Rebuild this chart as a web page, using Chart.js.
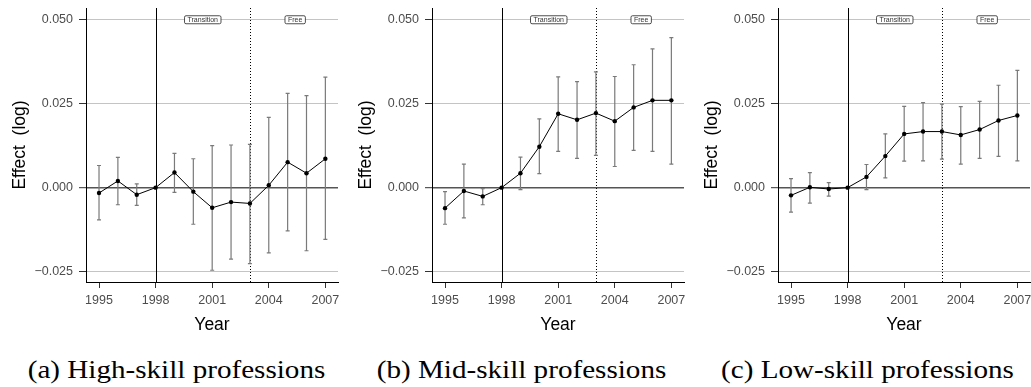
<!DOCTYPE html>
<html><head><meta charset="utf-8">
<script src="https://cdn.jsdelivr.net/npm/chart.js@4/dist/chart.umd.min.js"></script>
<style>
html,body{margin:0;padding:0;background:#fff;overflow:hidden;width:1031px;height:387px;}
.panel{position:absolute;top:0;width:345px;height:340px;}
.cap{position:absolute;top:355px;width:345px;text-align:center;font-family:'Liberation Serif','Times New Roman',serif;font-size:26px;line-height:30px;color:#000;white-space:nowrap;transform:scaleX(1.12);transform-origin:center;}
</style></head><body>
<div class="panel" style="left:0px"><canvas id="c0" width="345" height="340"></canvas></div>
<div class="panel" style="left:346px"><canvas id="c1" width="345" height="340"></canvas></div>
<div class="panel" style="left:692px"><canvas id="c2" width="345" height="340"></canvas></div>
<div class="cap" id="cap0" style="left:4px"></div>
<div class="cap" id="cap1" style="left:348.5px"></div>
<div class="cap" id="cap2" style="left:695px"></div>
<script>
const years = [1995,1996,1997,1998,1999,2000,2001,2002,2003,2004,2005,2006,2007];

const highEst = [-0.0016, 0.0020, -0.0021, 0, 0.0045, -0.0012, -0.0060, -0.0043, -0.0047, 0.0007, 0.0076, 0.0043, 0.0086];
const highLo  = [-0.0096, -0.0051, -0.0053, null, -0.0014, -0.0109, -0.0246, -0.0213, -0.0226, -0.0194, -0.0129, -0.0188, -0.0154];
const highHi  = [0.0066, 0.0090, 0.0011, null, 0.0102, 0.0086, 0.0125, 0.0127, 0.0129, 0.0209, 0.0281, 0.0274, 0.0329];

const midEst = [-0.0061, -0.0010, -0.0026, 0, 0.0043, 0.0122, 0.0220, 0.0202, 0.0222, 0.0198, 0.0239, 0.0260, 0.0260];
const midLo  = [-0.0109, -0.0090, -0.0051, null, -0.0006, 0.0042, 0.0108, 0.0087, 0.0096, 0.0063, 0.0111, 0.0108, 0.0070];
const midHi  = [-0.0012, 0.0070, -0.0003, null, 0.0091, 0.0205, 0.0330, 0.0316, 0.0345, 0.0331, 0.0366, 0.0413, 0.0447];

const lowEst = [-0.0023, 0.0001, -0.0004, 0, 0.0032, 0.0094, 0.0160, 0.0167, 0.0167, 0.0157, 0.0173, 0.0200, 0.0215];
const lowLo  = [-0.0073, -0.0046, -0.0025, null, -0.0006, 0.0029, 0.0079, 0.0080, 0.0085, 0.0070, 0.0087, 0.0093, 0.0080];
const lowHi  = [0.0027, 0.0045, 0.0015, null, 0.0069, 0.0160, 0.0242, 0.0253, 0.0249, 0.0241, 0.0257, 0.0305, 0.0349];

const xTicks = [1995, 1998, 2001, 2004, 2007];
const xTickLabels = ["1995", "1998", "2001", "2004", "2007"];
const yTicks = [-0.025, 0, 0.025, 0.05];
const yTickLabels = ["\u22120.025", "0.000", "0.025", "0.050"];

const solidLineYear = 1998;
const dottedLineYear = 2003;
const phaseLabels = ["Transition", "Free"];
const phaseLabelYears = [2000.5, 2005.4];
const phaseLabelValue = 0.05;

const captions = ["(a) High-skill professions", "(b) Mid-skill professions", "(c) Low-skill professions"];
const xTitle = "Year";
const yTitle = "Effect  (log)";

const panels = [
  {est: highEst, lo: highLo, hi: highHi},
  {est: midEst, lo: midLo, hi: midHi},
  {est: lowEst, lo: lowLo, hi: lowHi}
];

const TICK_FONT = {family: "'Liberation Sans', Arial, sans-serif", size: 12.5};
const TITLE_FONT = {family: "'Liberation Sans', Arial, sans-serif", size: 17.5};

const decor = {
  id: 'decor',
  beforeDatasetsDraw(chart, args, opts) {
    const {ctx, chartArea: a, scales: {x, y}} = chart;
    ctx.save();
    ctx.strokeStyle = '#000';
    ctx.lineWidth = 1;
    let px = Math.round(x.getPixelForValue(solidLineYear)) + 0.5;
    ctx.beginPath(); ctx.moveTo(px, a.top); ctx.lineTo(px, a.bottom); ctx.stroke();
    px = Math.round(x.getPixelForValue(dottedLineYear)) + 0.5;
    ctx.setLineDash([1, 2]);
    ctx.beginPath(); ctx.moveTo(px, a.top); ctx.lineTo(px, a.bottom); ctx.stroke();
    ctx.setLineDash([]);
    ctx.strokeStyle = '#7a7a7a';
    ctx.lineWidth = 1.2;
    const p = opts.panel;
    years.forEach((yr, i) => {
      if (p.lo[i] === null || p.hi[i] === null) return;
      const cx = x.getPixelForValue(yr);
      const y1 = y.getPixelForValue(p.lo[i]);
      const y2 = y.getPixelForValue(p.hi[i]);
      ctx.beginPath();
      ctx.moveTo(cx, y1); ctx.lineTo(cx, y2);
      ctx.moveTo(cx - 2, y1); ctx.lineTo(cx + 2, y1);
      ctx.moveTo(cx - 2, y2); ctx.lineTo(cx + 2, y2);
      ctx.stroke();
    });
    ctx.font = "7px 'Liberation Sans', Arial, sans-serif";
    ctx.textAlign = 'center';
    ctx.textBaseline = 'middle';
    phaseLabels.forEach((t, i) => {
      const cx = x.getPixelForValue(phaseLabelYears[i]);
      const cy = y.getPixelForValue(phaseLabelValue);
      const w = ctx.measureText(t).width + 6;
      const h = 8;
      ctx.beginPath();
      ctx.roundRect(cx - w / 2, cy - h / 2, w, h, 1.5);
      ctx.fillStyle = '#fff';
      ctx.fill();
      ctx.strokeStyle = '#222';
      ctx.lineWidth = 0.8;
      ctx.stroke();
      ctx.fillStyle = '#333';
      ctx.fillText(t, cx, cy + 0.5);
    });
    ctx.restore();
  }
};

panels.forEach((p, k) => {
  document.getElementById('cap' + k).textContent = captions[k];
  new Chart(document.getElementById('c' + k), {
    type: 'line',
    data: {
      datasets: [{
        data: years.map((yr, i) => ({x: yr, y: p.est[i]})),
        borderColor: '#000',
        borderWidth: 1,
        pointRadius: 2.2,
        pointBackgroundColor: '#000',
        pointBorderWidth: 0,
        tension: 0
      }]
    },
    plugins: [decor],
    options: {
      responsive: false,
      animation: false,
      devicePixelRatio: 1,
      layout: {padding: {left: 0, right: 7, top: 8, bottom: 0}},
      plugins: {legend: {display: false}, tooltip: {enabled: false}, decor: {panel: p}},
      scales: {
        x: {
          type: 'linear',
          min: 1994.31,
          max: 2007.67,
          afterBuildTicks: s => { s.ticks = xTicks.map(v => ({value: v})); },
          afterFit: s => { s.height = 58; s.paddingLeft = 0; s.paddingRight = 0; },
          ticks: {
            autoSkip: false, maxRotation: 0, padding: 5,
            font: TICK_FONT, color: '#4d4d4d',
            callback: v => xTickLabels[xTicks.indexOf(v)]
          },
          grid: {drawOnChartArea: false, drawTicks: true, tickLength: 6, tickColor: '#333', tickWidth: 1},
          border: {display: true, color: '#000', width: 1},
          title: {display: true, text: xTitle, font: TITLE_FONT, color: '#000', padding: {top: 0, bottom: 4}}
        },
        y: {
          type: 'linear',
          min: -0.0281,
          max: 0.0535,
          afterBuildTicks: s => { s.ticks = yTicks.map(v => ({value: v})); },
          afterFit: s => { s.width = 86; s.paddingTop = 0; s.paddingBottom = 0; },
          ticks: {
            padding: 6, font: TICK_FONT, color: '#4d4d4d',
            callback: v => yTickLabels[yTicks.indexOf(v)]
          },
          grid: {
            color: c => (c.tick && c.tick.value === 0) ? '#555' : '#c4c4c4',
            lineWidth: c => (c.tick && c.tick.value === 0) ? 1.4 : 1,
            drawTicks: true, tickLength: 7, tickColor: '#333', tickWidth: 1
          },
          border: {display: true, color: '#000', width: 1},
          title: {display: true, text: yTitle, font: TITLE_FONT, color: '#000', padding: {top: 9.5, bottom: 0}}
        }
      }
    }
  });
});
</script>
</body></html>
